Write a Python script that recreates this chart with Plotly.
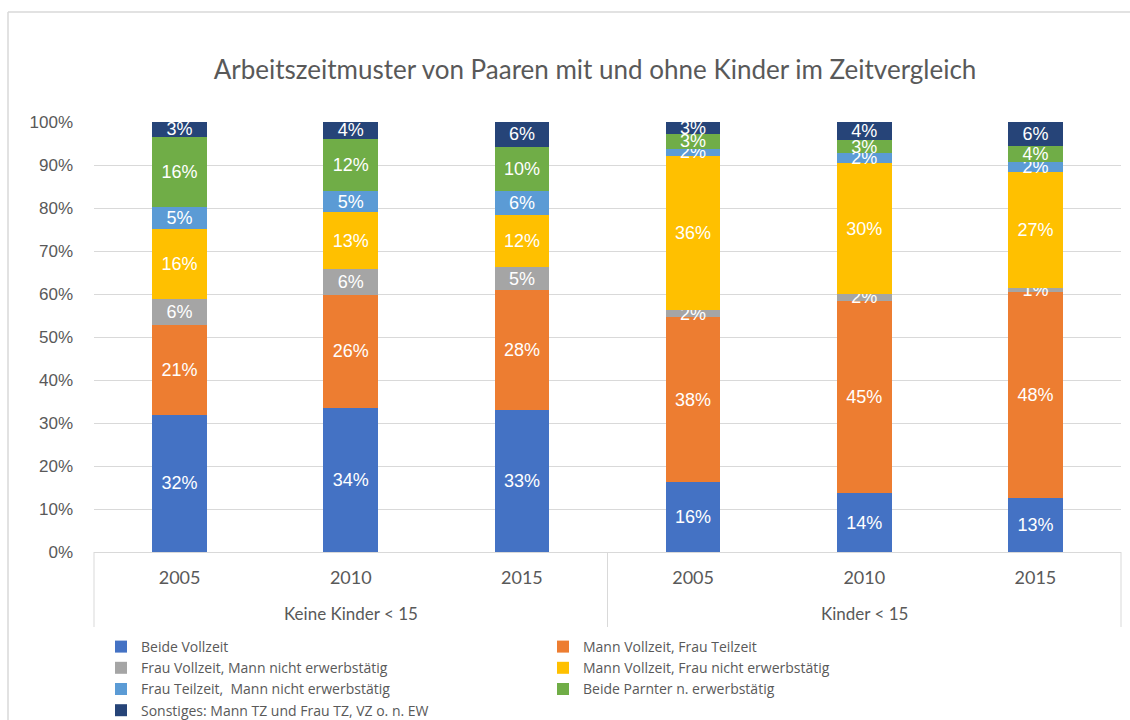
import plotly.graph_objects as go

groups = ["Keine Kinder < 15"] * 3 + ["Kinder < 15"] * 3
years = ["2005", "2010", "2015", "2005", "2010", "2015"]
group_labels = ["Keine Kinder < 15", "Kinder < 15"]

series_names = [
    "Beide Vollzeit",
    "Mann Vollzeit, Frau Teilzeit",
    "Frau Vollzeit, Mann nicht erwerbstätig",
    "Mann Vollzeit, Frau nicht erwerbstätig",
    "Frau Teilzeit,  Mann nicht erwerbstätig",
    "Beide Parnter n. erwerbstätig",
    "Sonstiges: Mann TZ und Frau TZ, VZ o. n. EW",
]

beide_vollzeit = [31.9, 33.6, 33.0, 16.2, 13.7, 12.6]
mann_vz_frau_tz = [20.8, 26.1, 28.0, 38.4, 44.7, 47.9]
frau_vz_mann_ne = [6.1, 6.0, 5.2, 1.6, 1.6, 1.0]
mann_vz_frau_ne = [16.4, 13.4, 12.2, 35.9, 30.4, 26.9]
frau_tz_mann_ne = [5.0, 4.8, 5.6, 1.7, 2.3, 2.4]
beide_ne = [16.4, 12.2, 10.2, 3.4, 3.2, 3.6]
sonstiges = [3.4, 3.9, 5.8, 2.8, 4.1, 5.6]

series_values = [beide_vollzeit, mann_vz_frau_tz, frau_vz_mann_ne, mann_vz_frau_ne,
                 frau_tz_mann_ne, beide_ne, sonstiges]
colors = ["#4472C4", "#ED7D31", "#A5A5A5", "#FFC000", "#5B9BD5", "#70AD47", "#264478"]

# unique category keys (group | year); the axis shows only the year
keys = [f"{g}|{y}" for g, y in zip(groups, years)]

fig = go.Figure()
for name, vals, col in zip(series_names, series_values, colors):
    fig.add_trace(go.Bar(
        x=keys,
        y=[v / 100 for v in vals],
        name=name,
        marker=dict(color=col, line=dict(width=0)),
        texttemplate="%{y:.0%}",
        textposition="inside",
        insidetextanchor="middle",
        textangle=0,
        constraintext="none",
        textfont=dict(family="Liberation Sans, Arial", size=18, color="white"),
        hoverinfo="skip",
    ))

W, H = 1130, 720
L, R, T, B = 94, 9, 122, 168
pw, ph = W - L - R, H - T - B


def py(pix):
    """pixel row -> paper y"""
    return (T + ph - pix) / ph


def px(pix):
    """pixel column -> paper x"""
    return (pix - L) / pw


# group label annotations, centred on the middle category of each group
annotations = []
for g in group_labels:
    members = [k for k, gg in zip(keys, groups) if gg == g]
    annotations.append(dict(
        x=members[len(members) // 2], xref="x", y=py(613), yref="paper",
        text=g, showarrow=False, xanchor="center", yanchor="middle",
        font=dict(family="Lato, Open Sans", size=17, color="#595959"),
    ))

# dividers at the edges of the groups
n = len(keys)
bounds = [0.0]
for i in range(1, n):
    if groups[i] != groups[i - 1]:
        bounds.append(i / n)
bounds.append(1.0)
shapes = [
    dict(type="line", xref="paper", yref="paper", x0=b, x1=b, y0=0, y1=py(627),
         line=dict(color="#d9d9d9", width=1))
    for b in bounds
]
# outer chart border (top and left)
shapes += [
    dict(type="line", xref="paper", yref="paper",
         x0=px(8), x1=px(W + 5), y0=py(12), y1=py(12),
         line=dict(color="#d9d9d9", width=1.5)),
    dict(type="line", xref="paper", yref="paper",
         x0=px(8), x1=px(8), y0=py(12), y1=py(H + 5),
         line=dict(color="#d9d9d9", width=1.5)),
]

fig.update_layout(
    width=W, height=H,
    barmode="stack",
    bargap=0.68,
    paper_bgcolor="white",
    plot_bgcolor="white",
    margin=dict(l=L, r=R, t=T, b=B, autoexpand=False),
    title=dict(
        text="Arbeitszeitmuster von Paaren mit und ohne Kinder im Zeitvergleich",
        xref="container", x=595 / W, xanchor="center",
        yref="container", y=1 - 70 / H, yanchor="middle",
        font=dict(family="Lato, Open Sans", size=26, color="#595959"),
    ),
    showlegend=True,
    legend=dict(
        orientation="h",
        x=px(101), xanchor="left",
        y=py(631), yanchor="top",
        entrywidth=397,
        font=dict(family="Open Sans", size=14, color="#595959"),
        traceorder="normal",
        itemclick=False,
    ),
    xaxis=dict(
        type="category",
        tickvals=keys, ticktext=years,
        showline=True, linecolor="#d9d9d9", linewidth=1,
        tickfont=dict(family="Lato, Open Sans", size=18, color="#595959"),
        ticks="",
        ticklabelstandoff=9,
        automargin=False,
    ),
    yaxis=dict(
        range=[0, 1], dtick=0.1, tickformat=".0%",
        showgrid=True, gridcolor="#d9d9d9", gridwidth=1,
        zeroline=False, showline=False,
        tickfont=dict(family="Liberation Sans, Arial", size=17, color="#595959"),
        ticklabelstandoff=20,
        automargin=False,
    ),
    annotations=annotations,
    shapes=shapes,
)

fig.write_html("out.html")
